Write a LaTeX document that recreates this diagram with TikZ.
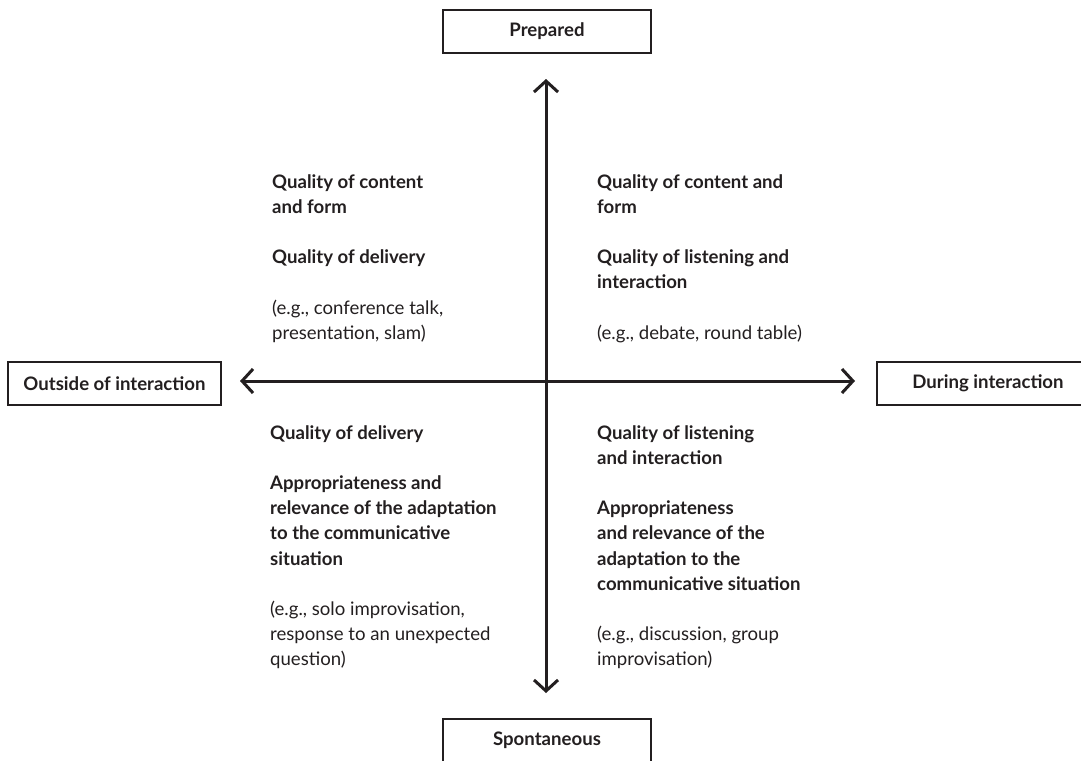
\documentclass[tikz,border=0pt]{standalone}
\usepackage{fontspec}
\setmainfont{Lato}
\usetikzlibrary{arrows.meta}
\definecolor{ink}{HTML}{231F20}
\begin{document}
\begin{tikzpicture}[x=1pt,y=-1pt,
  every node/.style={text=ink},
  pole/.style={draw=ink, line width=2pt, inner sep=0pt,
    font=\fontsize{18.6}{22}\selectfont\bfseries},
  axis/.style={draw=ink, line width=3pt,
    {Straight Barb[length=11pt,width=24pt]}-{Straight Barb[length=11pt,width=24pt]}},
  block/.style={anchor=north west, align=left, inner sep=0pt,
    font=\fontsize{18.6}{25.2}\selectfont},
]
\useasboundingbox (0,0) rectangle (1081,760);

% pole labels
\node[pole, minimum width=208pt, minimum height=43pt] (prep) at (547,31.5) {Prepared};
\node[pole, minimum width=213pt, minimum height=43pt] (out) at (114.5,383.5) {Outside of interaction};
\node[pole, minimum width=222pt, minimum height=43pt] (dur) at (988,383.5) {During interaction};
\node[pole, minimum width=208pt, minimum height=43pt] (spon) at (547,740) {Spontaneous};

% axes
\coordinate (vtop) at (546,79);
\coordinate (vbot) at (546,693);
\coordinate (hleft) at (240,381);
\coordinate (hright) at (855,381);
\draw[axis] (vtop) -- (vbot);
\draw[axis] (hleft) -- (hright);

% quadrant texts
\node[block] (q1) at (272,174) {\textbf{Quality of content}\\
\textbf{and form}\\[25.2pt]
\textbf{Quality of delivery}\\[25.2pt]
(e.g., conference talk,\\
presentation, slam)};

\node[block] (q2) at (597,174) {\textbf{Quality of content and}\\
\textbf{form}\\[25.2pt]
\textbf{Quality of listening and}\\
\textbf{interaction}\\[25.2pt]
(e.g., debate, round table)};

\node[block] (q3) at (270,425) {\textbf{Quality of delivery}\\[25.2pt]
\textbf{Appropriateness and}\\
\textbf{relevance of the adaptation}\\
\textbf{to the communicative}\\
\textbf{situation}\\[25.2pt]
(e.g., solo improvisation,\\
response to an unexpected\\
question)};

\node[block] (q4) at (597,425) {\textbf{Quality of listening}\\
\textbf{and interaction}\\[25.2pt]
\textbf{Appropriateness}\\
\textbf{and relevance of the}\\
\textbf{adaptation to the}\\
\textbf{communicative situation}\\[25.2pt]
(e.g., discussion, group\\
improvisation)};
\end{tikzpicture}
\end{document}
